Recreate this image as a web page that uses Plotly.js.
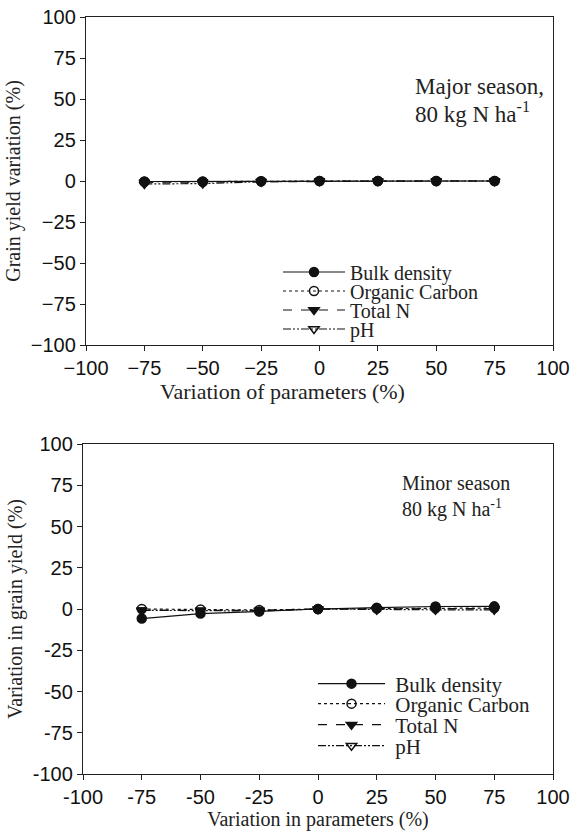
<!DOCTYPE html>
<html>
<head>
<meta charset="utf-8">
<script src="https://cdn.plot.ly/plotly-3.0.1.min.js"></script>
<style>html,body{margin:0;padding:0;background:#fff;}#chart{width:574px;height:838px;}</style>
</head>
<body>
<div id="chart"></div>
<script>
// ---- data ----
const paramVariation = [-75, -50, -25, 0, 25, 50, 75];
const seriesNames = ["Bulk density", "Organic Carbon", "Total N", "pH"];

// Major season (top panel)
const majorBulkDensity = [-0.3, -0.3, -0.2, 0, 0, 0, 0];
const majorOrganicCarbon = [-0.5, -0.5, -0.2, 0, 0, 0, 0];
const majorTotalN = [-0.8, -0.6, -0.3, 0, 0, 0, 0];
const majorPH = [-1.8, -1.6, -0.4, 0, 0, 0, 0];

// Minor season (bottom panel)
const minorBulkDensity = [-5.8, -2.8, -1.5, 0, 0.8, 1.5, 1.6];
const minorOrganicCarbon = [0, -0.3, -0.6, 0, 0.3, 0.5, 0.6];
const minorTotalN = [-0.8, -0.8, -0.8, 0, 0, 0.2, 0.3];
const minorPH = [-0.8, -1.0, -1.2, 0, -0.4, -0.5, -0.5];

const tickValues = [-100, -75, -50, -25, 0, 25, 50, 75, 100];
const tickLabelsTop = ["\u2212100", "\u221275", "\u221250", "\u221225", "0", "25", "50", "75", "100"];
const tickLabelsBottom = ["-100", "-75", "-50", "-25", "0", "25", "50", "75", "100"];

// ---- styles ----
const W = 574, H = 838;
const serif = "Liberation Serif, Times New Roman, serif";
const sans = "Liberation Sans, Arial, sans-serif";
const styles = [
  {dash: "solid", symbol: "circle"},
  {dash: "dot", symbol: "circle-open"},
  {dash: "dash", symbol: "triangle-down"},
  {dash: "8px,2px,2px,2px,2px,2px", symbol: "triangle-down-open"}
];

function makeTrace(y, i, xa, ya, legendId, prefix) {
  return {
    x: paramVariation, y: y, xaxis: xa, yaxis: ya,
    type: "scatter", mode: "lines+markers", name: prefix + seriesNames[i],
    legend: legendId,
    line: {color: "#111", width: 1.2, dash: styles[i].dash},
    marker: {symbol: styles[i].symbol, size: 9, color: "#111",
             line: {color: "#111", width: 1.5}}
  };
}

const topSeries = [majorBulkDensity, majorOrganicCarbon, majorTotalN, majorPH];
const botSeries = [minorBulkDensity, minorOrganicCarbon, minorTotalN, minorPH];
const traces = [];
topSeries.forEach((s, i) => traces.push(makeTrace(s, i, "x", "y", i === 0 ? "legend" : "legend" + (i + 1), "")));
botSeries.forEach((s, i) => traces.push(makeTrace(s, i, "x2", "y2", "legend" + (i + 5), "\u00a0")));

function px2x(p) { return p / W; }
function px2y(p) { return 1 - p / H; }

function axisX(domain, labels, anchor, title, tickSize, titleSize) {
  const ax = {
    domain: domain, range: [-100, 100], tickmode: "array", tickvals: tickValues, ticktext: labels,
    ticks: "outside", ticklen: 5, tickwidth: 1, tickcolor: "#222",
    showline: true, mirror: true, linecolor: "#222", linewidth: 1.2,
    showgrid: false, zeroline: false, anchor: anchor,
    tickfont: {family: sans, size: tickSize, color: "#111"}
  };
  if (title) ax.title = {text: title, font: {family: serif, size: titleSize, color: "#222"}, standoff: 4};
  return ax;
}
function axisY(domain, labels, anchor, title, tickSize, titleSize) {
  return {
    domain: domain, range: [-100, 100], tickmode: "array", tickvals: tickValues, ticktext: labels,
    ticks: "outside", ticklen: 5, tickwidth: 1, tickcolor: "#222",
    showline: true, mirror: true, linecolor: "#222", linewidth: 1.2,
    showgrid: false, zeroline: false, anchor: anchor,
    tickfont: {family: sans, size: tickSize, color: "#111"},
    title: {text: title, font: {family: serif, size: titleSize, color: "#222"}, standoff: 4}
  };
}

function legendAt(xpx, ypx, size, iw) {
  return {
    x: px2x(xpx), y: px2y(ypx), xanchor: "left", yanchor: "middle",
    bgcolor: "rgba(0,0,0,0)", borderwidth: 0, itemwidth: iw,
    font: {family: serif, size: size, color: "#222"}, itemclick: false
  };
}

const topLegendY = [272, 291, 310, 329];
const botLegendY = [684, 704, 725, 746];

const layout = {
  width: W, height: H,
  margin: {l: 0, r: 0, t: 0, b: 0},
  paper_bgcolor: "#fff", plot_bgcolor: "#fff",
  showlegend: true,
  xaxis: axisX([px2x(86), px2x(553)], tickLabelsTop, "y", null, 20, 22),
  yaxis: axisY([px2y(345), px2y(17)], tickLabelsTop, "x", "Grain yield variation (%)", 20, 20),
  xaxis2: axisX([px2x(83), px2x(553)], tickLabelsBottom, "y2", "Variation in parameters (%)", 20, 20),
  yaxis2: axisY([px2y(774), px2y(444)], tickLabelsBottom, "x2", "Variation in grain yield (%)", 20, 20),
  legend: legendAt(278, topLegendY[0], 20, 62),
  legend2: legendAt(278, topLegendY[1], 20, 62),
  legend3: legendAt(278, topLegendY[2], 20, 62),
  legend4: legendAt(278, topLegendY[3], 20, 62),
  legend5: legendAt(313, botLegendY[0], 21, 67),
  legend6: legendAt(313, botLegendY[1], 21, 67),
  legend7: legendAt(313, botLegendY[2], 21, 67),
  legend8: legendAt(313, botLegendY[3], 21, 67),
  annotations: [
    {xref: "paper", yref: "paper", x: px2x(282), y: px2y(391), xanchor: "center", yanchor: "middle",
     text: "Variation of parameters (%)", showarrow: false, font: {family: serif, size: 22, color: "#222"}},
    {xref: "paper", yref: "paper", x: px2x(413), y: px2y(86), xanchor: "left", yanchor: "middle",
     text: "Major season,", showarrow: false, font: {family: serif, size: 23, color: "#222"}},
    {xref: "paper", yref: "paper", x: px2x(413), y: px2y(113), xanchor: "left", yanchor: "middle",
     text: "80 kg N ha<sup>-1</sup>", showarrow: false, font: {family: serif, size: 23, color: "#222"}},
    {xref: "paper", yref: "paper", x: px2x(400), y: px2y(483), xanchor: "left", yanchor: "middle",
     text: "Minor season", showarrow: false, font: {family: serif, size: 20, color: "#222"}},
    {xref: "paper", yref: "paper", x: px2x(400), y: px2y(508), xanchor: "left", yanchor: "middle",
     text: "80 kg N ha<sup>-1</sup>", showarrow: false, font: {family: serif, size: 20, color: "#222"}}
  ]
};

Plotly.newPlot("chart", traces, layout, {displayModeBar: false, staticPlot: true});
</script>
</body>
</html>
